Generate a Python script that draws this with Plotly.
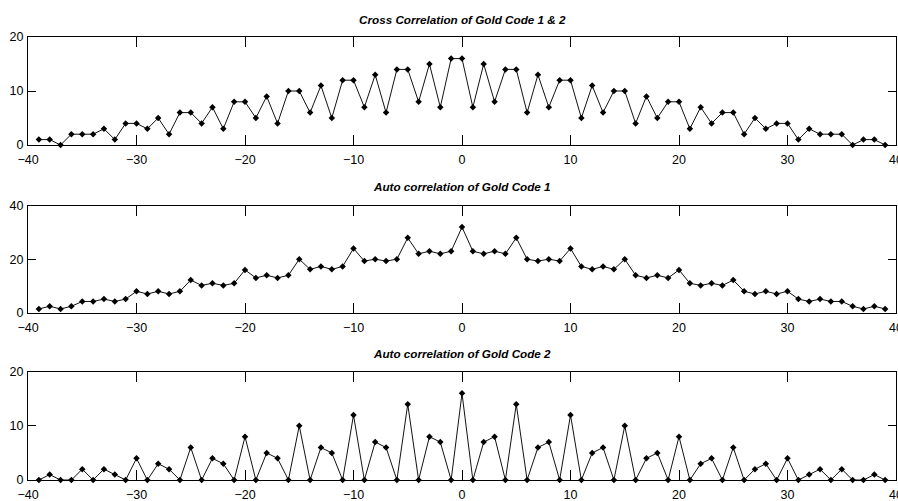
import plotly.graph_objects as go

# Lags of the correlation sequences
lags = list(range(-39, 40))

cross_12 = [1, 1, 0, 2, 2, 2, 3, 1, 4, 4, 3, 5, 2, 6, 6, 4, 7, 3, 8, 8,
            5, 9, 4, 10, 10, 6, 11, 5, 12, 12, 7, 13, 6, 14, 14, 8, 15, 7, 16,
            16, 7, 15, 8, 14, 14, 6, 13, 7, 12, 12, 5, 11, 6, 10, 10, 4, 9, 5,
            8, 8, 3, 7, 4, 6, 6, 2, 5, 3, 4, 4, 1, 3, 2, 2, 2, 0, 1, 1, 0]

auto_1 = [1.4, 2.4, 1.4, 2.4, 4.2, 4.2, 5.1, 4.2, 5.1, 8, 7, 8, 7, 8,
          12.2, 10.2, 11, 10.2, 11, 16, 13, 14, 13, 14, 20, 16.2, 17.3, 16.2,
          17.3, 24, 19.3, 20, 19.3, 20, 28, 22, 23, 22, 23,
          32,
          23, 22, 23, 22, 28, 20, 19.3, 20, 19.3, 24, 17.3, 16.2, 17.3, 16.2,
          20, 14, 13, 14, 13, 16, 11, 10.2, 11, 10.2, 12.2, 8, 7, 8, 7, 8,
          5.1, 4.2, 5.1, 4.2, 4.2, 2.4, 1.4, 2.4, 1.4]

auto_2 = [0, 1, 0, 0, 2, 0, 2, 1, 0, 4, 0, 3, 2, 0, 6, 0, 4, 3, 0, 8,
          0, 5, 4, 0, 10, 0, 6, 5, 0, 12, 0, 7, 6, 0, 14, 0, 8, 7, 0,
          16,
          0, 7, 8, 0, 14, 0, 6, 7, 0, 12, 0, 5, 6, 0, 10, 0, 4, 5, 0, 8,
          0, 3, 4, 0, 6, 0, 2, 3, 0, 4, 0, 1, 2, 0, 2, 0, 0, 1, 0]

titles = ["Cross Correlation of Gold Code 1 & 2",
          "Auto correlation of Gold Code 1",
          "Auto correlation of Gold Code 2"]
series = [cross_12, auto_1, auto_2]
y_ranges = [[0, 20], [0, 40], [0, 20]]
y_ticks = [[0, 10, 20], [0, 20, 40], [0, 10, 20]]
x_ticks = [-40, -30, -20, -10, 0, 10, 20, 30, 40]

W, H = 898, 501
M_L, M_R, M_T, M_B = 28, 2, 37, 21
plot_h = H - M_T - M_B


def py(pix):
    """Pixel row -> paper y coordinate."""
    return (H - M_B - pix) / plot_h


# Panel extents (top, bottom) in pixel rows
panels = [(37, 145), (205.7, 312.7), (371.7, 480)]
title_rows = [20, 186.7, 353]

FONT = "Liberation Sans, Arial, sans-serif"

fig = go.Figure()
layout = dict(
    width=W, height=H,
    margin=dict(l=M_L, r=M_R, t=M_T, b=M_B, autoexpand=False),
    paper_bgcolor="white", plot_bgcolor="white",
    showlegend=False,
    font=dict(family=FONT, size=12, color="black"),
)

annotations = []
for i, (vals, ttl) in enumerate(zip(series, titles)):
    n = "" if i == 0 else str(i + 1)
    xa, ya = "x" + n, "y" + n
    fig.add_trace(go.Scatter(
        x=lags, y=vals, mode="lines+markers",
        line=dict(color="#111111", width=1),
        marker=dict(symbol="diamond", size=5, color="black"),
        cliponaxis=False,
        xaxis=xa, yaxis=ya,
    ))
    top, bot = panels[i]
    axis_common = dict(
        showgrid=False, zeroline=False, showline=True, linecolor="black",
        linewidth=1, mirror="ticks", ticks="inside", tickcolor="black",
        tickwidth=1, tickfont=dict(family=FONT, size=12.5, color="black"),
        ticklabeloverflow="allow", automargin=False,
    )
    layout["xaxis" + n] = dict(
        axis_common, range=[-40, 40], tickvals=x_ticks, ticklen=10,
        ticklabelstandoff=3, anchor=ya, domain=[0, 1],
    )
    layout["yaxis" + n] = dict(
        axis_common, range=y_ranges[i], tickvals=y_ticks[i], ticklen=8,
        ticklabelstandoff=1, anchor=xa, domain=[py(bot), py(top)],
    )
    annotations.append(dict(
        text="<b><i>" + ttl + "</i></b>", xref="paper", yref="paper",
        x=0.5, y=py(title_rows[i]), xanchor="center", yanchor="middle",
        showarrow=False, font=dict(family=FONT, size=11.7, color="black"),
    ))

layout["annotations"] = annotations
fig.update_layout(**layout)
fig.write_html("out.html")
